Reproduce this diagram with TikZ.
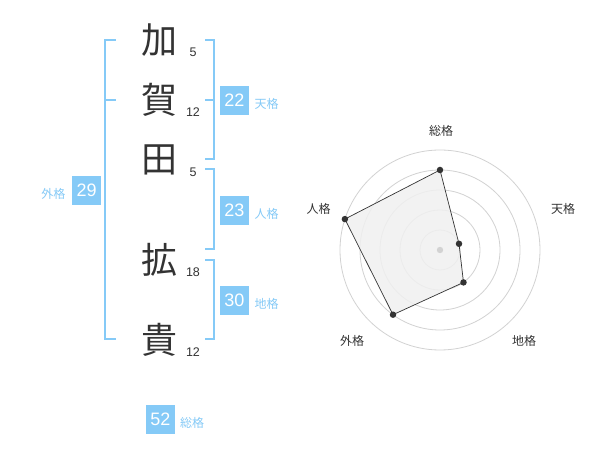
\documentclass[tikz,border=0pt]{standalone}
\usepackage{fontspec}
\setmainfont{Liberation Sans}
\newfontfamily\cjk{Noto Sans CJK JP}
\definecolor{sky}{HTML}{85CAF7}
\definecolor{ink}{HTML}{333333}
\definecolor{ring}{HTML}{D2D2D2}
\definecolor{area}{HTML}{F0F0F0}
\tikzset{
  kanji/.style={inner sep=0pt, text=ink, font=\cjk\fontsize{36}{36}\selectfont},
  strokes/.style={inner sep=0pt, text=ink, font=\fontsize{12.5}{12.5}\selectfont},
  numbox/.style={fill=sky, text=white, minimum width=29pt, minimum height=29pt, inner sep=0pt, font=\fontsize{18}{18}\selectfont},
  kaku/.style={inner sep=0pt, text=sky, font=\cjk\fontsize{12}{12}\selectfont},
  bracket/.style={draw=sky, line width=2pt},
  radarlabel/.style={inner sep=0pt, text=ink, font=\cjk\fontsize{12}{12}\selectfont},
  ringline/.style={draw=ring, line width=0.8pt},
  dot/.style={circle, fill=ink, inner sep=0pt, minimum size=6.5pt},
}
\begin{document}
\begin{tikzpicture}[x=1pt,y=-1pt]
\useasboundingbox (0,0) rectangle (600,470);
\fill[white] (0,0) rectangle (600,470);
% kanji
\node[kanji] (k1) at (159.3,40) {加};
\node[kanji] (k2) at (159.3,100) {賀};
\node[kanji] (k3) at (159.3,160) {田};
\node[kanji] (k4) at (159.3,260) {拡};
\node[kanji] (k5) at (159.3,340) {貴};
% stroke counts
\node[strokes] (s1) at (193,52.5) {5};
\node[strokes] (s2) at (193,112.5) {12};
\node[strokes] (s3) at (193,172.5) {5};
\node[strokes] (s4) at (193,272.5) {18};
\node[strokes] (s5) at (193,352.5) {12};
% brackets
\draw[bracket] (115.7,40) -- (105.3,40) -- (105.3,339.3) -- (115.7,339.3);
\draw[bracket] (105.3,100) -- (115.7,100);
\draw[bracket] (205,40) -- (214.3,40) -- (214.3,159.3) -- (205,159.3);
\draw[bracket] (205,100) -- (214.3,100);
\draw[bracket] (205,169.5) -- (214.3,169.5) -- (214.3,249.3) -- (205,249.3);
\draw[bracket] (205,260) -- (214.3,260) -- (214.3,339.3) -- (205,339.3);
% boxes and labels
\node[numbox] (b1) at (234.5,100.5) {22};
\node[kaku] (l1) at (266.5,103.5) {天格};
\node[numbox] (b2) at (234.5,210.5) {23};
\node[kaku] (l2) at (266.5,213.5) {人格};
\node[numbox] (b3) at (234.5,300.5) {30};
\node[kaku] (l3) at (266.5,303.5) {地格};
\node[numbox] (b4) at (86.7,190.5) {29};
\node[kaku] (l4) at (53.3,193.5) {外格};
\node[numbox] (b5) at (160.5,419) {52};
\node[kaku] (l5) at (192,422.5) {総格};
% radar
\coordinate (c) at (440,250);
\foreach \r in {20,40,60,80,100} \draw[ringline] (c) circle[radius=\r];
\coordinate (p1) at (440,170);
\coordinate (p2) at (459.0,243.8);
\coordinate (p3) at (463.5,282.4);
\coordinate (p4) at (393.0,314.7);
\coordinate (p5) at (344.9,219.1);
\filldraw[fill=area, fill opacity=0.85, draw=ink, line width=0.7pt] (p1) -- (p2) -- (p3) -- (p4) -- (p5) -- cycle;
\fill[ring] (c) circle[radius=3.2];
\foreach \p in {p1,p2,p3,p4,p5} \node[dot] at (\p) {};
\node[radarlabel] (r1) at (441,130.5) {総格};
\node[radarlabel] (r2) at (563,208.5) {天格};
\node[radarlabel] (r3) at (524,341) {地格};
\node[radarlabel] (r4) at (352,341) {外格};
\node[radarlabel] (r5) at (318.5,208.5) {人格};
\end{tikzpicture}
\end{document}
